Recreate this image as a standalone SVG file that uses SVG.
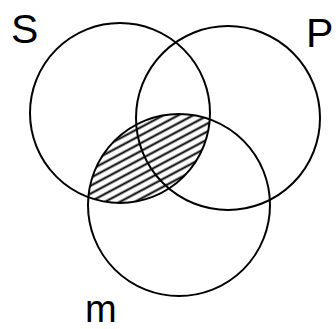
<svg xmlns="http://www.w3.org/2000/svg" width="336" height="329" viewBox="0 0 336 329">
<style>
.c{fill:none;stroke:#000;stroke-width:2}
.t{font-family:"Liberation Sans",Arial,sans-serif;fill:#000}
</style>
<defs>
<clipPath id="clipS"><circle cx="120" cy="113" r="90"/></clipPath>
<clipPath id="clipM"><circle cx="179" cy="205" r="91"/></clipPath>
<pattern id="hatch" width="8" height="7" patternUnits="userSpaceOnUse" patternTransform="rotate(-28)">
<line x1="0" y1="3.5" x2="8" y2="3.5" stroke="#000" stroke-width="2"/>
</pattern>
</defs>
<rect width="336" height="329" fill="#fff"/>
<g id="shade" clip-path="url(#clipS)">
<rect x="60" y="100" width="170" height="120" fill="url(#hatch)" clip-path="url(#clipM)"/>
</g>
<g id="S"><circle class="c" cx="120" cy="113" r="90"/><text class="t" x="11" y="43" font-size="41">S</text></g>
<g id="P"><circle class="c" cx="228" cy="118" r="92" stroke-width="2.4"/><text class="t" x="306" y="47" font-size="41">P</text></g>
<g id="M"><circle class="c" cx="179" cy="205" r="91" stroke-width="2.4"/><text class="t" x="85" y="322" font-size="38">m</text></g>
<g id="connectors"/>
</svg>
